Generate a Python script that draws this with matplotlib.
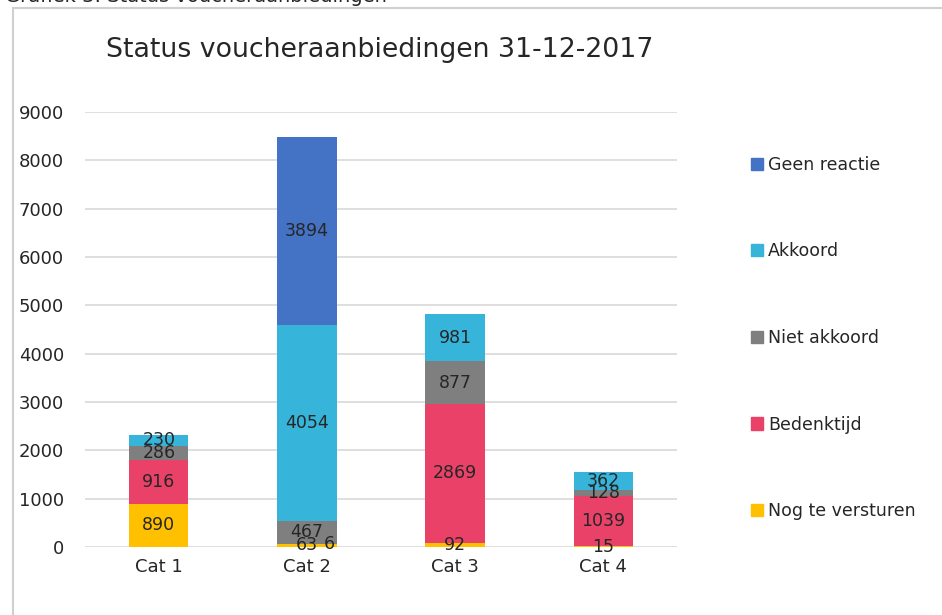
import matplotlib.pyplot as plt
import numpy as np
from matplotlib.patches import Patch
from matplotlib.lines import Line2D

categories = ['Cat 1', 'Cat 2', 'Cat 3', 'Cat 4']
nog_te_versturen = [890, 63, 92, 15]
bedenktijd = [916, 6, 2869, 1039]
niet_akkoord = [286, 467, 877, 128]
akkoord = [230, 4054, 981, 362]
geen_reactie = [0, 3894, 0, 0]

series = [
    ('Nog te versturen', nog_te_versturen, '#ffc000'),
    ('Bedenktijd', bedenktijd, '#e94167'),
    ('Niet akkoord', niet_akkoord, '#7f7f7f'),
    ('Akkoord', akkoord, '#37b4da'),
    ('Geen reactie', geen_reactie, '#4472c4'),
]

fig = plt.figure(figsize=(9.42, 6.15), dpi=100)
ax = fig.add_axes([0.090, 0.1106, 0.629, 0.7074])

x = np.arange(len(categories))
bottom = np.zeros(len(categories))
handles = []
for name, vals, col in series:
    vals = np.array(vals, dtype=float)
    ax.bar(x, vals, bottom=bottom, width=0.4, color=col, zorder=2)
    for i in range(len(x)):
        if vals[i] <= 0:
            continue
        dx = 0
        # small label in cat 2 was pushed aside in the original
        if name == 'Bedenktijd' and vals[i] < 20:
            dx = 0.15
        ax.text(x[i] + dx, bottom[i] + vals[i] / 2, str(int(vals[i])),
                ha='center', va='center', fontsize=12.5, color='#262626', zorder=3)
    bottom += vals
    handles.append(Patch(color=col, label=name))

ax.set_xlim(-0.5, 3.5)
ax.set_ylim(0, 9000)
ax.set_yticks(range(0, 9001, 1000))
ax.set_xticks(x)
ax.set_xticklabels(categories)
ax.tick_params(length=0, labelsize=13, colors='#262626', pad=8)
ax.tick_params(axis='y', pad=15)
ax.yaxis.grid(True, color='#d9d9d9', lw=1.2, zorder=0)
for s in ax.spines.values():
    s.set_visible(False)

leg = fig.legend(handles=handles[::-1], loc='upper left', bbox_to_anchor=(0.781, 0.772),
                 frameon=False, fontsize=12.5, labelspacing=3.95,
                 handlelength=0.7, handleheight=0.7, handletextpad=0.25)
for t in leg.get_texts():
    t.set_color('#262626')

fig.text(0.112, 0.918, 'Status voucheraanbiedingen 31-12-2017', fontsize=19.3,
         color='#262626', va='center', ha='left')
fig.text(0.005, 1.005, 'Grafiek 3: Status voucheraanbiedingen', fontsize=14,
         color='#262626', va='center', ha='left')

# chart frame (only top and left are visible in the crop)
fig.add_artist(Line2D([0.014, 1.0], [0.987, 0.987], color='#d0d0d0', lw=1.5))
fig.add_artist(Line2D([0.014, 0.014], [0.0, 0.987], color='#d0d0d0', lw=1.5))

fig.savefig('out.png', dpi=100)
